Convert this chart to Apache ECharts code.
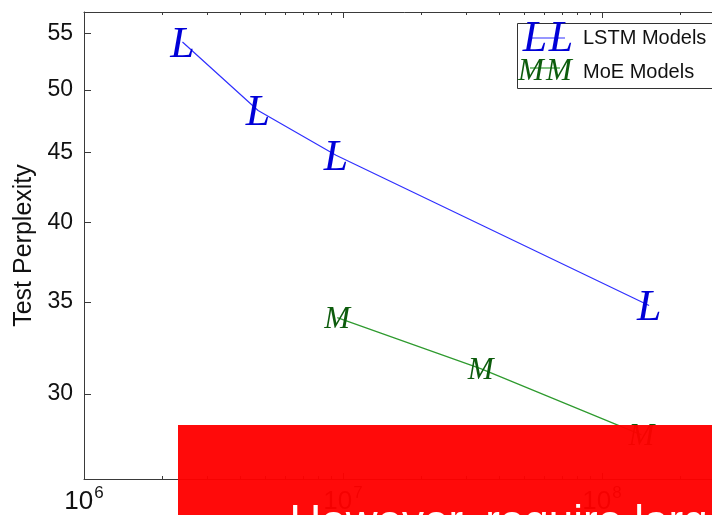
<!DOCTYPE html>
<html>
<head>
<meta charset="utf-8">
<script src="https://cdn.jsdelivr.net/npm/echarts@6/dist/echarts.min.js"></script>
<style>
  html, body { margin: 0; padding: 0; background: #fff; overflow: hidden; width: 712px; height: 515px; }
  #chart { width: 740px; height: 515px; }
</style>
</head>
<body>
<div id="chart"></div>
<script>
// Parameters (x) and test perplexity (y) for each model family
const seriesNames = ['LSTM Models', 'MoE Models'];
const lstmParams = [2.4e6, 4.7e6, 9.4e6, 1.52e8];
const lstmPerplexity = [54.2, 48.3, 44.8, 34.8];
const moeParams = [9.5e6, 3.4e7, 1.42e8];
const moePerplexity = [34.1, 31.3, 28.0];

// Axis ranges and tick values
const xRange = [1e6, 3e8];
const yRange = [26, 57];
const xMajorTicks = [1e6, 1e7, 1e8];
const yTicks = [30, 35, 40, 45, 50, 55];
const yAxisTitle = 'Test Perplexity';
const bannerText = 'However, require large models';

const lg = Math.log10;
const xMinor = [];
for (let d = 6; d <= 8; d++) {
  for (let k = 2; k <= 9; k++) {
    const v = k * Math.pow(10, d);
    if (v <= xRange[1]) xMinor.push(lg(v));
  }
}
const xMajor = xMajorTicks.map(lg);

const frame = '#3a3a3a';
const baseX = {
  type: 'value', min: lg(xRange[0]), max: lg(xRange[1]),
  splitLine: { show: false }
};
function xAx(pos, major, withLine, withLabel) {
  return Object.assign({}, baseX, {
    position: pos,
    axisLine: { show: withLine, lineStyle: { color: frame, width: 1 } },
    axisTick: { show: true, inside: true, length: major ? 6 : 3,
      customValues: major ? xMajor : xMinor,
      lineStyle: { color: frame, width: 1 } },
    axisLabel: withLabel ? {
      show: true, margin: 6,
      customValues: xMajor,
      formatter: v => '{b|10}{s|' + Math.round(v) + '}',
      rich: {
        b: { fontFamily: 'Liberation Sans', fontSize: 26, color: '#111', lineHeight: 30, verticalAlign: 'bottom' },
        s: { fontFamily: 'Liberation Sans', fontSize: 17, color: '#111', lineHeight: 30, verticalAlign: 'top', padding: [0, 0, 0, 1] }
      }
    } : { show: false }
  });
}

const yLog = yTicks.map(lg);
function yAx(pos, withLabel) {
  return {
    type: 'value', position: pos, min: lg(yRange[0]), max: lg(yRange[1]),
    splitLine: { show: false },
    axisLine: { show: true, lineStyle: { color: frame, width: 1 } },
    axisTick: { show: true, inside: true, length: 7, customValues: yLog,
      lineStyle: { color: frame, width: 1 } },
    axisLabel: withLabel ? {
      show: true, margin: 11, customValues: yLog,
      formatter: v => String(Math.round(Math.pow(10, v))),
      fontFamily: 'Liberation Sans', fontSize: 23, color: '#111'
    } : { show: false },
    name: withLabel ? yAxisTitle : '',
    nameLocation: 'middle', nameGap: 41,
    nameTextStyle: { fontFamily: 'Liberation Sans', fontSize: 25, color: '#111' }
  };
}

function glyphSeries(name, xs, ys, glyph, glyphSize, glyphColor, lineColor, dy) {
  return {
    name, type: 'line', xAxisIndex: 0, yAxisIndex: 0,
    data: xs.map((x, i) => [lg(x), lg(ys[i])]),
    symbol: 'circle', symbolSize: 1,
    itemStyle: { color: 'rgba(0,0,0,0)' },
    lineStyle: { color: lineColor, width: 1.2 },
    label: {
      show: true, position: 'inside', formatter: glyph, offset: [0, dy],
      fontFamily: 'Liberation Serif', fontStyle: 'italic',
      fontSize: glyphSize, color: glyphColor
    },
    emphasis: { disabled: true },
    z: 3
  };
}

const L_COLOR = '#0000d8', L_LINE = '#3030ff';
const M_COLOR = '#0d5c0d', M_LINE = '#2e9a2e';
const glyphFont = (size, color) => ({ fontFamily: 'Liberation Serif', fontStyle: 'italic', fontSize: size, fill: color, align: 'center', verticalAlign: 'middle' });
const legendFont = { fontFamily: 'Liberation Sans', fontSize: 20, fill: '#111', verticalAlign: 'middle' };

const option = {
  animation: false,
  backgroundColor: '#ffffff',
  grid: { left: 84, top: 12, right: 14.4, bottom: 33.5, containLabel: false },
  xAxis: [
    xAx('bottom', true, true, true),
    xAx('bottom', false, false, false),
    xAx('top', true, true, false),
    xAx('top', false, false, false)
  ],
  yAxis: [yAx('left', true), yAx('right', false)],
  series: [
    glyphSeries(seriesNames[0], lstmParams, lstmPerplexity, 'L', 44, L_COLOR, L_LINE, 3),
    glyphSeries(seriesNames[1], moeParams, moePerplexity, 'M', 31, M_COLOR, M_LINE, 2)
  ],
  graphic: [
    { type: 'rect', z: 50, shape: { x: 517.5, y: 23.5, width: 230, height: 65 },
      style: { fill: '#fff', stroke: '#333', lineWidth: 1 } },
    { type: 'line', z: 51, shape: { x1: 530, y1: 38, x2: 565, y2: 38 }, style: { stroke: L_LINE, lineWidth: 1.2 } },
    { type: 'text', z: 52, x: 535, y: 39, style: Object.assign({ text: 'L' }, glyphFont(44, L_COLOR)) },
    { type: 'text', z: 52, x: 561, y: 39, style: Object.assign({ text: 'L' }, glyphFont(44, L_COLOR)) },
    { type: 'text', z: 52, x: 583, y: 38.5, style: Object.assign({ text: seriesNames[0] }, legendFont) },
    { type: 'line', z: 51, shape: { x1: 530, y1: 68, x2: 560, y2: 68 }, style: { stroke: M_LINE, lineWidth: 1.2 } },
    { type: 'text', z: 52, x: 531, y: 72, style: Object.assign({ text: 'M' }, glyphFont(31, M_COLOR)) },
    { type: 'text', z: 52, x: 559, y: 72, style: Object.assign({ text: 'M' }, glyphFont(31, M_COLOR)) },
    { type: 'text', z: 52, x: 583, y: 72.5, style: Object.assign({ text: seriesNames[1] }, legendFont) },
    // red banner across the lower part of the plot
    { type: 'rect', zlevel: 1, z: 100, shape: { x: 178, y: 425, width: 600, height: 120 },
      style: { fill: 'rgba(255,0,0,0.96)' } },
    { type: 'text', zlevel: 1, z: 101, x: 289.5, y: 502,
      style: { text: bannerText, fontFamily: 'Liberation Sans', fontSize: 44, fill: '#ffffff', verticalAlign: 'top' } }
  ]
};

const chart = echarts.init(document.getElementById('chart'), null, { renderer: 'canvas' });
chart.setOption(option);
</script>
</body>
</html>
